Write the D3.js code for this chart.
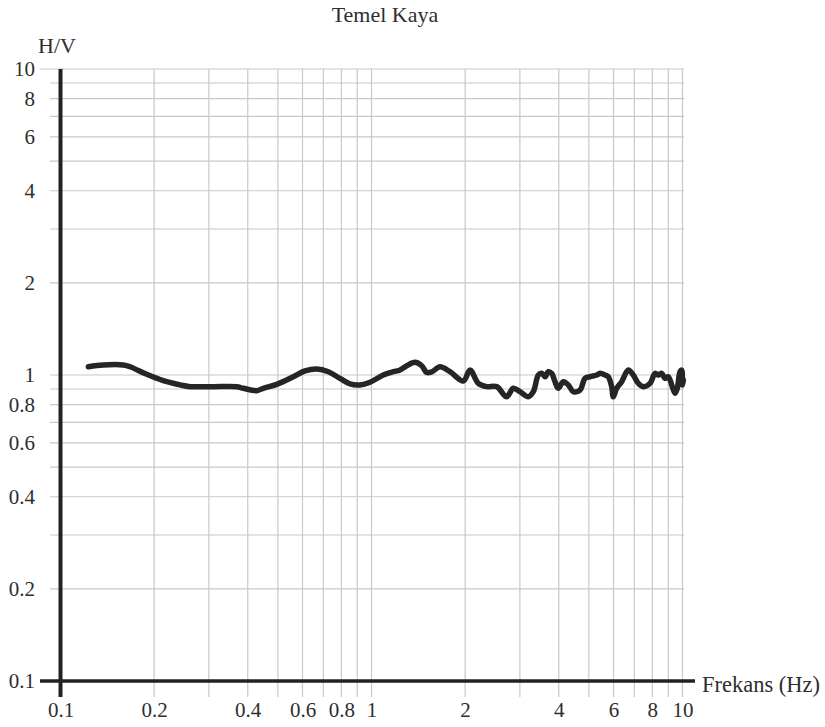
<!DOCTYPE html>
<html>
<head>
<meta charset="utf-8">
<script src="https://cdn.jsdelivr.net/npm/d3@7"></script>
<style>
    body { margin: 0; background: #fff; }
    .grid line { stroke: #c8c8c8; stroke-width: 1.2; }
    .hv-line { fill: none; stroke: #252525; stroke-width: 5.5; stroke-linejoin: round; stroke-linecap: round; }
    text { font-family: "Liberation Serif", "DejaVu Serif", serif; fill: #2e2e2e; }
</style>
</head>
<body>
<svg class="chart"></svg>
<script>
// H/V spectral ratio
const freq = [0.1229, 0.1373, 0.1592, 0.1673, 0.1893, 0.2141, 0.2423, 0.2609, 0.31, 0.3686,
    0.387, 0.4275, 0.4488, 0.4957, 0.5605, 0.6111, 0.6666, 0.7264, 0.792, 0.8531,
    0.9184, 0.989, 1.091, 1.175, 1.235, 1.298, 1.38, 1.45, 1.505, 1.565,
    1.661, 1.788, 1.973, 2.074, 2.205, 2.346, 2.527, 2.721, 2.857, 3.003,
    3.193, 3.314, 3.439, 3.527, 3.614, 3.703, 3.797, 3.89, 3.986, 4.137,
    4.293, 4.456, 4.682, 4.858, 5.041, 5.298, 5.429, 5.634, 5.773, 5.92,
    5.991, 6.143, 6.375, 6.694, 6.946, 7.209, 7.482, 7.864, 8.161, 8.362,
    8.574, 8.786, 9.003, 9.233, 9.461, 9.623, 9.817, 9.94, 10.01, 10.06];
const hv = [1.064, 1.078, 1.078, 1.064, 1.005, 0.958, 0.928, 0.916, 0.916, 0.916,
    0.905, 0.889, 0.905, 0.932, 0.987, 1.031, 1.046, 1.025, 0.975, 0.935,
    0.928, 0.947, 1.0, 1.025, 1.038, 1.072, 1.1, 1.072, 1.019, 1.025,
    1.064, 1.025, 0.956, 1.038, 0.939, 0.916, 0.916, 0.849, 0.905, 0.882,
    0.849, 0.882, 1.0, 1.013, 0.987, 1.025, 1.013, 0.951, 0.905, 0.951,
    0.928, 0.882, 0.893, 0.975, 0.987, 1.0, 1.013, 1.0, 0.987, 0.916,
    0.849, 0.905, 0.951, 1.038, 1.0, 0.939, 0.916, 0.939, 1.013, 1.0,
    1.013, 0.975, 0.987, 0.928, 0.871, 0.905, 1.025, 1.038, 0.928, 0.963];

const xTicks = [0.1, 0.2, 0.4, 0.6, 0.8, 1, 2, 4, 6, 8, 10];
const yTicks = [0.1, 0.2, 0.4, 0.6, 0.8, 1, 2, 4, 6, 8, 10];
const gridValues = [0.2, 0.3, 0.4, 0.5, 0.6, 0.7, 0.8, 0.9, 1, 2, 3, 4, 5, 6, 7, 8, 9, 10];

const title = "Temel Kaya";
const yTitle = "H/V";
const xTitle = "Frekans (Hz)";

const width = 825, height = 727;
const plot = {left: 60.5, right: 682.5, top: 69, bottom: 681};

const svg = d3.select(".chart").attr("width", width).attr("height", height);

const x = d3.scaleLog().domain([0.1, 10]).range([plot.left, plot.right]);
const y = d3.scaleLog().domain([0.1, 10]).range([plot.bottom, plot.top]);

// сетка
const grid = svg.append("g").attr("class", "grid");
grid.selectAll(".vx").data(gridValues).enter().append("line")
    .attr("x1", d => x(d)).attr("x2", d => x(d))
    .attr("y1", plot.top).attr("y2", plot.bottom + 16);
grid.selectAll(".hy").data(gridValues).enter().append("line")
    .attr("x1", d => d === 10 ? 40 : 50).attr("x2", plot.right + 1.5)
    .attr("y1", d => y(d)).attr("y2", d => y(d));

// оси
svg.append("line")
    .attr("x1", 40).attr("x2", 695)
    .attr("y1", y(0.1)).attr("y2", y(0.1))
    .attr("stroke", "#222").attr("stroke-width", 3.5);
svg.append("line")
    .attr("x1", x(0.1)).attr("x2", x(0.1))
    .attr("y1", plot.top).attr("y2", plot.bottom + 16)
    .attr("stroke", "#222").attr("stroke-width", 4);

const yAxis = d3.axisLeft(y).tickValues(yTicks).tickFormat(d3.format("~g")).tickSize(0).tickPadding(2);
const xAxis = d3.axisBottom(x).tickValues(xTicks).tickFormat(d3.format("~g")).tickSize(0).tickPadding(5);

svg.append("g")
    .attr("transform", "translate(37,0)")
    .call(yAxis)
    .call(g => g.select(".domain").remove());
svg.append("g")
    .attr("transform", `translate(0,${plot.bottom + 16})`)
    .call(xAxis)
    .call(g => g.select(".domain").remove());

svg.selectAll(".tick text")
    .attr("font-family", "'Liberation Serif', serif")
    .attr("font-size", 21)
    .attr("fill", "#2e2e2e");

// кривая
const line = d3.line()
    .x((d, i) => x(freq[i]))
    .y(d => y(d))
    .curve(d3.curveCatmullRom.alpha(0.5));

svg.append("path")
    .datum(hv)
    .attr("class", "hv-line")
    .attr("d", line);

svg.append("text")
    .attr("x", 385).attr("y", 22)
    .attr("text-anchor", "middle")
    .attr("font-size", 22)
    .text(title);
svg.append("text")
    .attr("x", 38).attr("y", 53)
    .attr("font-size", 22)
    .text(yTitle);
svg.append("text")
    .attr("x", 702).attr("y", 692)
    .attr("font-size", 22.5)
    .text(xTitle);
</script>
</body>
</html>
